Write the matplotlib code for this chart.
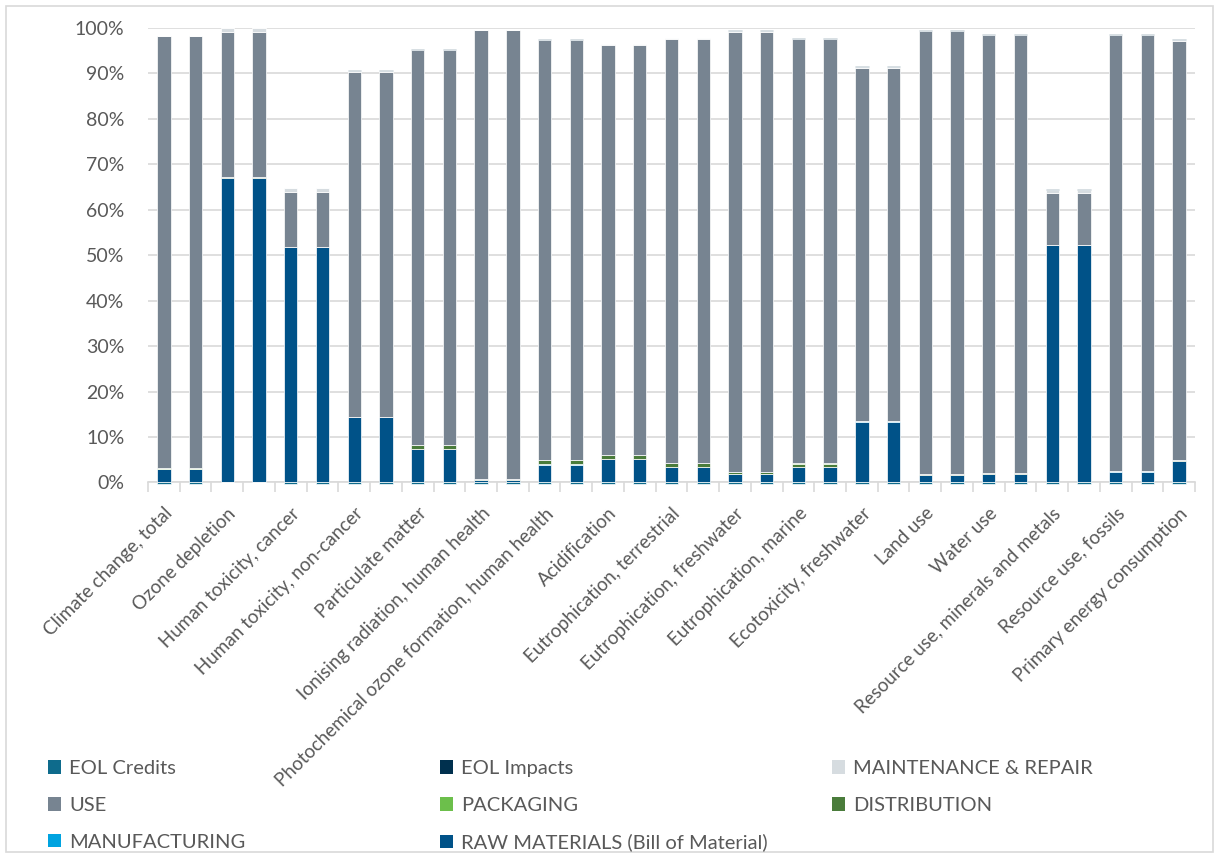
import matplotlib
matplotlib.use("Agg")
import matplotlib.pyplot as plt
import numpy as np
from matplotlib.patches import Rectangle, Patch

# impact categories (each shown twice except the last, labels on every other bar)
categories = [
    "Climate change, total", "Climate change, total",
    "Ozone depletion", "Ozone depletion",
    "Human toxicity, cancer", "Human toxicity, cancer",
    "Human toxicity, non-cancer", "Human toxicity, non-cancer",
    "Particulate matter", "Particulate matter",
    "Ionising radiation, human health", "Ionising radiation, human health",
    "Photochemical ozone formation, human health", "Photochemical ozone formation, human health",
    "Acidification", "Acidification",
    "Eutrophication, terrestrial", "Eutrophication, terrestrial",
    "Eutrophication, freshwater", "Eutrophication, freshwater",
    "Eutrophication, marine", "Eutrophication, marine",
    "Ecotoxicity, freshwater", "Ecotoxicity, freshwater",
    "Land use", "Land use",
    "Water use", "Water use",
    "Resource use, minerals and metals", "Resource use, minerals and metals",
    "Resource use, fossils", "Resource use, fossils",
    "Primary energy consumption",
]

# shares in %
raw_materials = [2.9, 2.9, 67.0, 67.0, 51.7, 51.7, 14.3, 14.3, 7.4, 7.4, 0.6, 0.6,
                 3.9, 3.9, 5.2, 5.2, 3.4, 3.4, 1.9, 1.9, 3.3, 3.3, 13.4, 13.4,
                 1.65, 1.65, 1.9, 1.9, 52.2, 52.2, 2.4, 2.4, 4.7]
manufacturing = [0.05, 0.05, 0.05, 0.05, 0.05, 0.05, 0.05, 0.05, 0.05, 0.05, 0.02, 0.02,
                 0.05, 0.05, 0.05, 0.05, 0.05, 0.05, 0.02, 0.02, 0.05, 0.05, 0.05, 0.05,
                 0.02, 0.02, 0.02, 0.02, 0.05, 0.05, 0.02, 0.02, 0.05]
distribution = [0.1, 0.1, 0.02, 0.02, 0.05, 0.05, 0.1, 0.1, 0.8, 0.8, 0.05, 0.05,
                0.9, 0.9, 0.7, 0.7, 0.75, 0.75, 0.3, 0.3, 0.8, 0.8, 0.1, 0.1,
                0.2, 0.2, 0.1, 0.1, 0.05, 0.05, 0.1, 0.1, 0.2]
packaging = [0.02] * 33
use = [95.0, 95.0, 32.0, 32.0, 12.1, 12.1, 75.8, 75.8, 86.8, 86.8, 98.7, 98.7,
       92.4, 92.4, 90.3, 90.3, 93.3, 93.3, 96.9, 96.9, 93.3, 93.3, 77.6, 77.6,
       97.4, 97.4, 96.4, 96.4, 11.3, 11.3, 95.9, 95.9, 92.2]
maintenance = [0.1, 0.1, 0.8, 0.8, 0.8, 0.8, 0.2, 0.2, 0.05, 0.05, 0.1, 0.1,
               0.05, 0.05, 0.05, 0.05, 0.25, 0.25, 0.05, 0.05, 0.05, 0.05, 0.3, 0.3,
               0.05, 0.05, 0.05, 0.05, 0.8, 0.8, 0.05, 0.05, 0.05]
eol_impacts = [0.1, 0.1, 0.05, 0.05, 0.05, 0.05, 0.15, 0.15, 0.2, 0.2, 0.1, 0.1,
               0.2, 0.2, 0.2, 0.2, 0.05, 0.05, 0.2, 0.2, 0.2, 0.2, 0.1, 0.1,
               0.2, 0.2, 0.2, 0.2, 0.05, 0.05, 0.2, 0.2, 0.35]
eol_credits = [-0.4, -0.4, 0.0, 0.0, -0.4, -0.4, -0.4, -0.4, -0.4, -0.4, -0.4, -0.4,
               -0.4, -0.4, -0.4, -0.4, -0.4, -0.4, -0.4, -0.4, -0.4, -0.4, -0.4, -0.4,
               -0.4, -0.4, -0.4, -0.4, -0.4, -0.4, -0.4, -0.4, -0.4]

stack = [
    ("RAW MATERIALS (Bill of Material)", raw_materials, "#005288"),
    ("MANUFACTURING", manufacturing, "#00A3E0"),
    ("DISTRIBUTION", distribution, "#4A7C3B"),
    ("PACKAGING", packaging, "#6CBF4B"),
    ("USE", use, "#778491"),
    ("MAINTENANCE & REPAIR", maintenance, "#D6DCE0"),
    ("EOL Impacts", eol_impacts, "#00304E"),
]
credit_color = "#0E6B8C"

plt.rcParams["font.family"] = ["Lato", "DejaVu Sans"]
text_color = "#595959"
grid_color = "#D9D9D9"

fig = plt.figure(figsize=(12.17, 8.58), dpi=100)
ax = fig.add_axes([0.1216, 0.4377, 0.8603, 0.5300])

x = np.arange(len(categories))
w = 0.42
bottom = np.zeros(len(categories))
colors = {}
for name, vals, col in stack:
    v = np.array(vals) / 100.0
    ax.bar(x, v, w, bottom=bottom, color=col, edgecolor="white", linewidth=0.5,
           clip_on=False, zorder=3)
    bottom += v
    colors[name] = col
ax.bar(x, np.array(eol_credits) / 100.0, w, color=credit_color, edgecolor="white",
       linewidth=0.5, clip_on=False, zorder=3)
colors["EOL Credits"] = credit_color

ax.set_xlim(-0.5, len(categories) - 0.5)
ax.set_ylim(0, 1)
ax.set_yticks(np.arange(0, 1.01, 0.1))
ax.set_yticklabels([f"{int(round(t * 100))}%" for t in np.arange(0, 1.01, 0.1)])
ax.yaxis.grid(True, color=grid_color, linewidth=1.2, zorder=0)
ax.set_axisbelow(True)

for s in ["left", "top", "right"]:
    ax.spines[s].set_visible(False)
ax.spines["bottom"].set_color(grid_color)
ax.spines["bottom"].set_linewidth(1.2)
ax.spines["bottom"].set_zorder(2)

shown = [lab if i % 2 == 0 else "" for i, lab in enumerate(categories)]
ax.set_xticks(x)
ax.set_xticklabels(shown, rotation=45, ha="right", rotation_mode="anchor")
ax.set_xticks(np.arange(-0.5, len(categories), 1.0), minor=True)
ax.tick_params(axis="x", which="major", length=0, pad=16, labelsize=13.5,
               labelcolor=text_color)
ax.tick_params(axis="x", which="minor", length=7, width=1.2, color=grid_color)
ax.tick_params(axis="y", length=0, pad=17, labelsize=14, labelcolor=text_color)

# legend laid out like the original: three columns read row by row
legend_cols = [
    ["EOL Credits", "USE", "MANUFACTURING"],
    ["EOL Impacts", "PACKAGING", "RAW MATERIALS (Bill of Material)"],
    ["MAINTENANCE & REPAIR", "DISTRIBUTION"],
]
col_x = [48 / 1217, 440 / 1217, 832 / 1217]
for names, cx in zip(legend_cols, col_x):
    handles = [Patch(facecolor=colors[n], edgecolor="none") for n in names]
    leg = fig.legend(handles, names, loc="upper left", bbox_to_anchor=(cx, 0.114),
                     frameon=False, fontsize=14.5, handlelength=0.65, handleheight=0.65,
                     handletextpad=0.4, labelspacing=0.98, borderpad=0,
                     borderaxespad=0)
    for t in leg.get_texts():
        t.set_color(text_color)

fig.add_artist(Rectangle((0.0049, 0.007), 0.9918, 0.986, transform=fig.transFigure,
                         fill=False, edgecolor=grid_color, linewidth=1.2))

fig.savefig("out.png", dpi=100)
